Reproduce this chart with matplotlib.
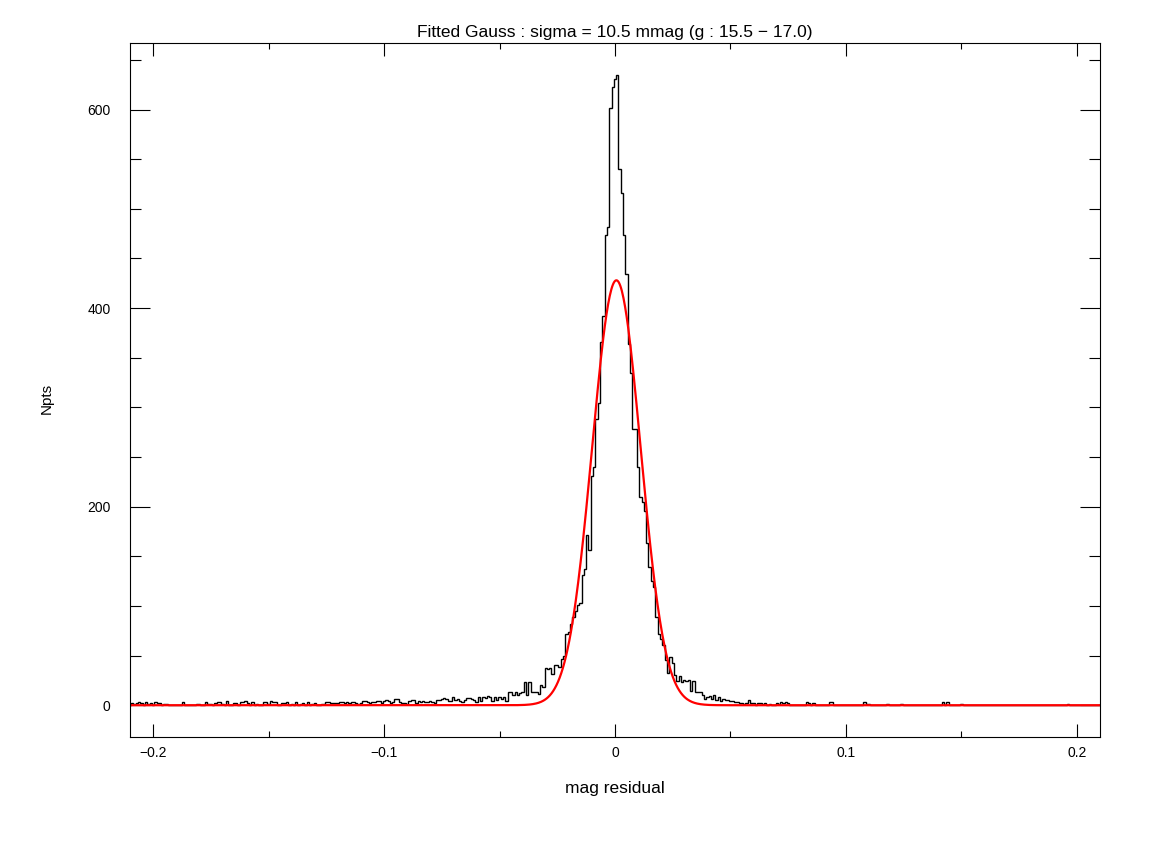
import numpy as np
import matplotlib
matplotlib.use("Agg")
import matplotlib.pyplot as plt
from matplotlib.ticker import MultipleLocator, FuncFormatter

plt.rcParams['font.family'] = ['Liberation Sans', 'DejaVu Sans']

# histogram, bins of 1 mmag centred on k*0.001
bin_width = 0.001
k_min = -210
k_max = 210

# counts for k = -210 .. -55
left_tail = [
    0, 2, 1, 2, 3, 2, 0, 3, 1, 2,
    0, 3, 2, 2, 0, 1, 1, 0, 0, 0,
    0, 0, 0, 3, 0, 0, 0, 0, 0, 1,
    1, 0, 0, 3, 1, 1, 0, 2, 3, 3,
    1, 0, 4, 0, 0, 2, 2, 0, 3, 3,
    4, 2, 0, 3, 0, 1, 0, 0, 3, 3,
    1, 4, 3, 3, 0, 0, 2, 2, 3, 0,
    1, 0, 3, 0, 1, 2, 0, 3, 0, 1,
    2, 0, 0, 1, 1, 3, 3, 2, 2, 2,
    2, 3, 3, 2, 3, 2, 3, 3, 2, 1,
    2, 4, 4, 3, 2, 3, 3, 4, 4, 2,
    4, 5, 4, 2, 3, 6, 6, 3, 2, 2,
    1, 4, 5, 5, 2, 4, 3, 4, 3, 3,
    4, 3, 2, 5, 5, 6, 7, 6, 4, 4,
    8, 5, 6, 4, 3, 5, 7, 7, 6, 5,
    3, 8, 4, 8, 7, 9,
]

# counts for k = -54 .. 60
core = [
    8, 4, 8, 5, 8, 6, 8, 4, 13, 13,
    10, 13, 10, 12, 13, 23, 10, 23, 13, 13,
    13, 11, 20, 18, 37, 36, 37, 31, 41, 41,
    39, 47, 50, 72, 74, 82, 89, 95, 101, 103,
    131, 137, 171, 156, 231, 240, 288, 304, 366, 392,
    474, 482, 602, 623, 631, 635, 540, 516, 474, 434,
    364, 335, 278, 278, 240, 210, 205, 196, 163, 139,
    125, 119, 89, 72, 67, 61, 46, 32, 49, 43,
    30, 24, 29, 23, 25, 24, 25, 14, 24, 13,
    13, 13, 10, 6, 8, 9, 6, 10, 5, 8,
    4, 6, 5, 5, 4, 4, 3, 3, 2, 2,
    1, 2, 5, 2, 2,
]

# k = 61 .. 210 : only the non-empty bins
right_k = [62, 63, 64, 65, 67, 70, 71, 72, 73, 74, 75, 83, 84, 86, 93, 94,
           108, 109, 110, 118, 124, 142, 144, 150, 196]
right_n = [2, 2, 1, 2, 1, 2, 1, 3, 2, 3, 2, 3, 2, 2, 3, 3,
           3, 1, 1, 1, 1, 3, 3, 1, 1]

# fitted gauss
g_amp = 428.0
g_mu = 0.0006
g_sigma = 0.0105

right_tail = [0] * (k_max - 60)
for k, n in zip(right_k, right_n):
    right_tail[k - 61] = n
counts = np.array(left_tail + core + right_tail, dtype=float)
edges = (np.arange(k_min, k_max + 2) - 0.5) * bin_width

xg = np.linspace(-0.21, 0.21, 1200)
yg = g_amp * np.exp(-0.5 * ((xg - g_mu) / g_sigma) ** 2)

fig = plt.figure(figsize=(11.58, 8.51), dpi=100)
ax = fig.add_axes([130 / 1158, 1 - 737 / 851, 970 / 1158, 694 / 851])

ax.stairs(counts, edges, color='black', linewidth=1.0, baseline=None)
ax.plot(xg, yg, color='red', linewidth=1.6)

ax.set_xlim(-0.21, 0.21)
ax.set_ylim(-32, 667)

ax.xaxis.set_major_locator(MultipleLocator(0.1))
ax.xaxis.set_minor_locator(MultipleLocator(0.05))
ax.yaxis.set_major_locator(MultipleLocator(200))
ax.yaxis.set_minor_locator(MultipleLocator(50))
ax.xaxis.set_major_formatter(FuncFormatter(lambda v, p: '0' if abs(v) < 1e-9 else f'{v:.1f}'.replace('-', '\u2212')))

ax.tick_params(axis='both', which='both', direction='in', top=True, right=True,
               width=0.8, color='black', labelsize=10)
ax.tick_params(axis='x', which='major', length=9.5, pad=6.5)
ax.tick_params(axis='x', which='minor', length=4.5)
ax.tick_params(axis='y', which='major', length=14.5, pad=14)
ax.tick_params(axis='y', which='minor', length=8)
for s in ax.spines.values():
    s.set_linewidth(0.8)

ax.set_xlabel('mag residual', fontsize=12.5, va='center')
ax.xaxis.set_label_coords(0.5, (737 - 789) / 694)
ax.set_ylabel('Npts', fontsize=11, va='center')
ax.yaxis.set_label_coords((47 - 130) / 970, (737 - 398) / 694)
fig.text(615 / 1158, 1 - 32 / 851, 'Fitted Gauss : sigma = 10.5 mmag (g : 15.5 \u2212 17.0)',
         ha='center', va='center', fontsize=12.5)

fig.savefig('out.png', dpi=100)
